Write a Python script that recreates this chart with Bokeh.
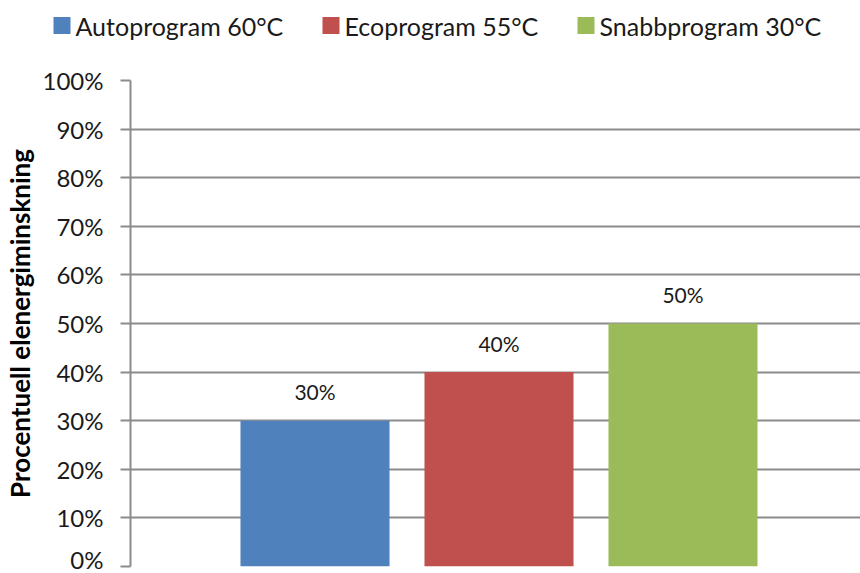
from bokeh.plotting import figure
from bokeh.models import (Range1d, FixedTicker, PrintfTickFormatter,
                          ColumnDataSource)
from bokeh.core.properties import value
from bokeh.embed import file_html
from bokeh.resources import INLINE

# Energy reduction per dishwasher program
programs = ["Autoprogram 60°C", "Ecoprogram 55°C", "Snabbprogram 30°C"]
reduction = [30, 40, 50]
colors = ["#4F81BD", "#C0504D", "#9BBB59"]
y_ticks = [0, 10, 20, 30, 40, 50, 60, 70, 80, 90, 100]

FONT = "Lato"
GRID = "#8C8C8C"
TEXT = "#1a1a1a"

positions = list(range(len(programs)))
labels = [f"{v}%" for v in reduction]

src = ColumnDataSource(dict(x=positions, top=reduction, color=colors,
                            name=programs, label=labels))

# ---- legend strip on top (drawn in pixel units) ----
LEG_H = 60
SW = 17                      # swatch size
swatch_left = [53, 322, 577]
leg_src = ColumnDataSource(dict(
    sx=[x + SW / 2 for x in swatch_left],
    tx=[x + SW + 5 for x in swatch_left],
    y=[LEG_H - 25] * len(programs),
    color=colors, name=programs))

lg = figure(width=860, height=LEG_H, output_backend="svg",
            toolbar_location=None, x_range=Range1d(0, 860),
            y_range=Range1d(0, LEG_H), min_border=0)
lg.outline_line_color = None
lg.axis.visible = False
lg.grid.visible = False
lg.rect(x="sx", y="y", width=SW, height=SW, source=leg_src,
        fill_color="color", line_color=None)
lg.text(x="tx", y="y", text="name", source=leg_src, text_align="left",
        text_baseline="middle", text_font=value(FONT),
        text_font_size="25px", text_color=TEXT)

# ---- main bar chart ----
p = figure(width=860, height=573 - LEG_H, output_backend="svg",
           toolbar_location=None,
           x_range=Range1d(-1.0027, 2.9647), y_range=Range1d(0, 100),
           min_border_left=130, min_border_right=0,
           min_border_top=20, min_border_bottom=7)
p.outline_line_color = None
p.background_fill_color = "white"
p.border_fill_color = "white"

p.xaxis.visible = False
p.xgrid.visible = False

ax = p.yaxis[0]
ax.ticker = FixedTicker(ticks=y_ticks)
ax.formatter = PrintfTickFormatter(format="%d%%")
ax.axis_line_color = GRID
ax.axis_line_width = 2
ax.major_tick_line_color = GRID
ax.major_tick_line_width = 2
ax.major_tick_out = 10
ax.major_tick_in = 0
ax.minor_tick_line_color = None
ax.major_label_text_font = FONT
ax.major_label_text_font_size = "24px"
ax.major_label_text_color = TEXT
ax.major_label_standoff = 17
ax.axis_label = "Procentuell elenergiminskning"
ax.axis_label_text_font = FONT
ax.axis_label_text_font_style = "bold"
ax.axis_label_text_font_size = "26px"
ax.axis_label_text_color = "black"
ax.axis_label_standoff = 4

p.ygrid.ticker = FixedTicker(ticks=y_ticks)
p.ygrid.grid_line_color = GRID
p.ygrid.grid_line_width = 2

p.vbar(x="x", top="top", width=0.81, bottom=0, source=src,
       fill_color="color", line_color=None)

p.text(x="x", y="top", text="label", source=src, text_align="center",
       text_baseline="middle", y_offset=-29, text_font_size="21px",
       text_font=value(FONT), text_color=TEXT)

open("out.html", "w").write(file_html([lg, p], INLINE))
